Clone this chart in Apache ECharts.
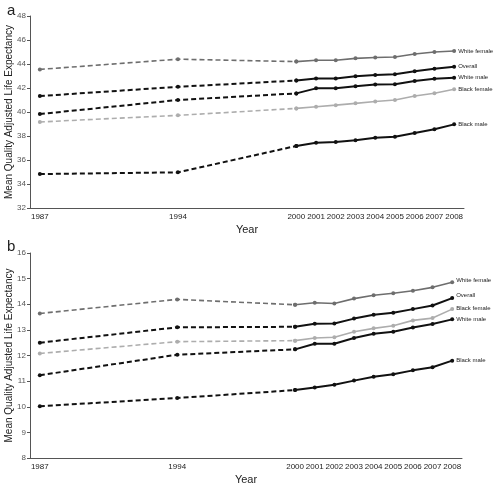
<!DOCTYPE html>
<html><head><meta charset="utf-8">
<script src="https://cdn.jsdelivr.net/npm/echarts@6/dist/echarts.min.js"></script>
<style>html,body{margin:0;padding:0;background:#fff}#c{width:494px;height:486px}</style>
</head><body><div id="c"></div>
<script>
const years = [];
for (let y = 1987; y <= 2008; y++) years.push(String(y));
const labelYears = ['1987','1994','2000','2001','2002','2003','2004','2005','2006','2007','2008'];
const dashedYears = ['1987','1994','2000'];
const solidYears = ['2000','2001','2002','2003','2004','2005','2006','2007','2008'];
const groups = ['White female','Overall','White male','Black female','Black male'];

// Panel a (dashed: 1987,1994,2000; solid: 2000..2008)
const aWhiteFemaleDash = [43.55, 44.4, 44.2];
const aWhiteFemale = [44.2, 44.31, 44.31, 44.47, 44.54, 44.58, 44.83, 45.0, 45.08];
const aOverallDash = [41.33, 42.1, 42.62];
const aOverall = [42.62, 42.8, 42.8, 42.97, 43.09, 43.14, 43.39, 43.61, 43.78];
const aWhiteMaleDash = [39.83, 41.0, 41.55];
const aWhiteMale = [41.55, 41.97, 41.97, 42.15, 42.3, 42.31, 42.58, 42.78, 42.86];
const aBlackFemaleDash = [39.17, 39.72, 40.3];
const aBlackFemale = [40.3, 40.44, 40.57, 40.72, 40.87, 41.0, 41.33, 41.56, 41.89];
const aBlackMaleDash = [34.83, 34.97, 37.17];
const aBlackMale = [37.17, 37.43, 37.5, 37.64, 37.86, 37.94, 38.25, 38.56, 38.97];

// Panel b
const bWhiteFemaleDash = [13.64, 14.19, 13.98];
const bWhiteFemale = [13.98, 14.06, 14.03, 14.22, 14.35, 14.43, 14.53, 14.66, 14.86];
const bOverallDash = [12.5, 13.1, 13.12];
const bOverall = [13.12, 13.24, 13.25, 13.44, 13.59, 13.67, 13.81, 13.95, 14.24];
const bWhiteMaleDash = [11.23, 12.03, 12.24];
const bWhiteMale = [12.24, 12.46, 12.46, 12.68, 12.85, 12.93, 13.09, 13.23, 13.41];
const bBlackFemaleDash = [12.08, 12.54, 12.58];
const bBlackFemale = [12.58, 12.68, 12.71, 12.93, 13.06, 13.16, 13.37, 13.46, 13.81];
const bBlackMaleDash = [10.02, 10.34, 10.65];
const bBlackMale = [10.65, 10.75, 10.86, 11.02, 11.17, 11.27, 11.42, 11.54, 11.8];

const colors = {'White female':'#6e6e6e','Overall':'#111','White male':'#111','Black female':'#adadad','Black male':'#111'};
const widths = {'White female':1.6,'Overall':2,'White male':2,'Black female':1.6,'Black male':2};

function fullSeries(yrs, vals){
  return years.map(y => { const i = yrs.indexOf(y); return i >= 0 ? vals[i] : null; });
}

function makeSeries(idx, name, dash, solid, labelOffsetY){
  const c = colors[name], w = widths[name];
  const dashData = fullSeries(dashedYears, dash);
  const solidVals = fullSeries(solidYears, solid);
  const solidData = solidVals.map((v, i) => {
    if (v === null) return null;
    if (years[i] === '2008') return {value: v, label: {show: true, position: 'right', distance: 2, formatter: name,
      fontSize: 6, color: '#222', fontFamily: 'Liberation Sans', offset: [0, labelOffsetY || 0]}};
    return v;
  });
  const common = {type: 'line', xAxisIndex: idx, yAxisIndex: idx, symbol: 'circle', symbolSize: 4,
    itemStyle: {color: c}, connectNulls: true, animation: false, silent: true, z: 3};
  return [
    Object.assign({}, common, {name: name + ' dashed', data: dashData, lineStyle: {color: c, width: w, type: [5, 3]}}),
    Object.assign({}, common, {name: name, data: solidData, lineStyle: {color: c, width: w}})
  ];
}

const axisColor = '#555';
function xAxis(idx){
  return {type: 'category', gridIndex: idx, data: years, boundaryGap: true,
    name: 'Year', nameLocation: 'middle', nameGap: 16,
    nameTextStyle: {fontSize: 11, color: '#222', fontFamily: 'Liberation Sans'},
    axisLine: {lineStyle: {color: axisColor, width: 1}},
    axisTick: {interval: 0, length: 3, lineStyle: {color: axisColor}},
    axisLabel: {interval: (i, v) => labelYears.indexOf(v) >= 0, fontSize: 8, color: '#222', margin: 5, fontFamily: 'Liberation Sans'},
    splitLine: {show: false}};
}
function yAxis(idx, min, max, interval){
  return {type: 'value', gridIndex: idx, min, max, interval,
    name: 'Mean Quality Adjusted Life Expectancy', nameLocation: 'middle', nameGap: 16, nameMoveOverlap: false,
    nameTextStyle: {fontSize: 10, color: '#222', fontFamily: 'Liberation Sans'},
    axisLine: {show: true, lineStyle: {color: axisColor, width: 1}},
    axisTick: {show: true, length: 3, lineStyle: {color: axisColor}},
    axisLabel: {fontSize: 8, color: '#555', margin: 4, fontFamily: 'Liberation Sans'},
    splitLine: {show: false}};
}

const series = [];
series.push(...makeSeries(0, 'White female', aWhiteFemaleDash, aWhiteFemale));
series.push(...makeSeries(0, 'Overall', aOverallDash, aOverall));
series.push(...makeSeries(0, 'White male', aWhiteMaleDash, aWhiteMale));
series.push(...makeSeries(0, 'Black female', aBlackFemaleDash, aBlackFemale));
series.push(...makeSeries(0, 'Black male', aBlackMaleDash, aBlackMale));
series.push(...makeSeries(1, 'White female', bWhiteFemaleDash, bWhiteFemale, -2));
series.push(...makeSeries(1, 'Overall', bOverallDash, bOverall, -3));
series.push(...makeSeries(1, 'White male', bWhiteMaleDash, bWhiteMale));
series.push(...makeSeries(1, 'Black female', bBlackFemaleDash, bBlackFemale, -1));
series.push(...makeSeries(1, 'Black male', bBlackMaleDash, bBlackMale));

const chart = echarts.init(document.getElementById('c'), null, {renderer: 'canvas'});
chart.setOption({
  backgroundColor: '#fff',
  animation: false,
  title: [
    {text: 'a', left: 2, top: -2, textStyle: {fontSize: 15, fontWeight: 'normal', color: '#222', fontFamily: 'Liberation Sans'}},
    {text: 'b', left: 2, top: 234, textStyle: {fontSize: 15, fontWeight: 'normal', color: '#222', fontFamily: 'Liberation Sans'}}
  ],
  grid: [
    {left: 30, width: 434, top: 16, height: 192, outerBoundsMode: 'none', containLabel: false},
    {left: 30, width: 432, top: 253, height: 205, outerBoundsMode: 'none', containLabel: false}
  ],
  xAxis: [xAxis(0), xAxis(1)],
  yAxis: [yAxis(0, 32, 48, 2), yAxis(1, 8, 16, 1)],
  series
});
</script></body></html>
